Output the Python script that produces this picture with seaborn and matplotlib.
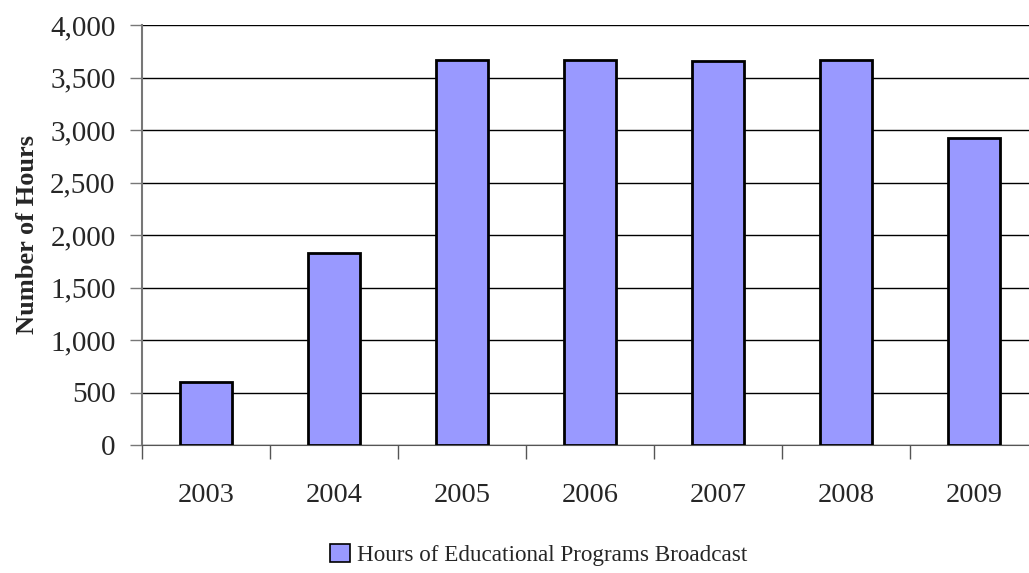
import matplotlib
matplotlib.use("Agg")
import matplotlib.pyplot as plt
import seaborn as sns
import numpy as np
from matplotlib.ticker import FuncFormatter, MultipleLocator, FixedLocator

years = ['2003', '2004', '2005', '2006', '2007', '2008', '2009']
hours = [600, 1830, 3667, 3667, 3657, 3667, 2920]
serie = 'Hours of Educational Programs Broadcast'

sns.set_style('white')
plt.rcParams['font.family'] = ['Liberation Serif', 'DejaVu Serif']

fig = plt.figure(figsize=(10.29, 5.73), dpi=100)
ax = fig.add_axes([142/1029, 1 - 445/573, (1038 - 142)/1029, (445 - 25)/573])

sns.barplot(x=years, y=hours, color='#9999ff', edgecolor='black', linewidth=2,
            width=0.41, saturation=1, label=serie, ax=ax, zorder=3)

ax.set_ylim(0, 4000)
ax.set_xlim(-0.5, 6.5)
ax.yaxis.set_major_locator(MultipleLocator(500))
ax.yaxis.set_major_formatter(FuncFormatter(lambda v, p: f'{int(v):,}'))
ax.grid(axis='y', color='black', linewidth=1, zorder=0)

# marcas entre as categorias
ax.xaxis.set_minor_locator(FixedLocator(np.arange(-0.5, 7, 1)))
ax.tick_params(axis='x', which='major', length=0, pad=27, labelsize=20.5)
ax.tick_params(axis='x', which='minor', length=10, width=1, color='#555555', direction='out', bottom=True)
ax.tick_params(axis='y', length=9, width=1, color='#777777', direction='out', left=True, labelsize=21, pad=10)

for s in ['top', 'right']:
    ax.spines[s].set_visible(False)
ax.spines['left'].set_color('#777777')
ax.spines['bottom'].set_color('#555555')
ax.spines['left'].set_linewidth(1.5)

ax.set_xlabel('')
ax.set_ylabel('Number of Hours', fontsize=19, fontweight='bold', labelpad=8)

ax.legend(loc='center', bbox_to_anchor=((539 - 142) / 896, (445 - 555) / 420), frameon=False,
          fontsize=16.7, handlelength=0.85, handleheight=0.85, handletextpad=0.3,
          borderaxespad=0)
leg = ax.get_legend()
for h in leg.legend_handles:
    h.set_linewidth(1.2)

fig.savefig('out.png', dpi=100)
